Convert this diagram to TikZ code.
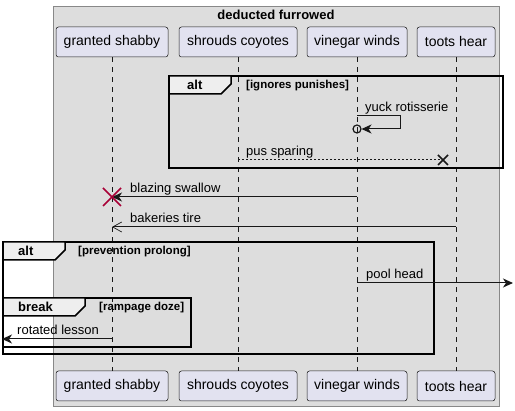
\documentclass[tikz,border=0pt]{standalone}
\usepackage{fontspec}
\setmainfont{Liberation Sans}
\usetikzlibrary{arrows.meta}
\definecolor{boxgrey}{HTML}{DDDDDD}
\definecolor{partfill}{HTML}{E2E2F0}
\definecolor{ink}{HTML}{181818}
\definecolor{tabfill}{HTML}{EEEEEE}
\definecolor{destroyred}{HTML}{A80036}
\definecolor{boxline}{HTML}{888888}
\begin{document}
\begin{tikzpicture}[x=1pt,y=-1pt,
 part/.style={draw=ink,fill=partfill,line width=0.5pt,rounded corners=2.5pt,minimum height=30pt,inner sep=0pt,font=\fontsize{14}{16}\selectfont},
 life/.style={draw=ink,line width=0.5pt,dash pattern=on 5pt off 5pt},
 msg/.style={draw=ink,line width=1pt},
 lbl/.style={anchor=base west,inner sep=0pt,font=\fontsize{13}{15}\selectfont},
 frm/.style={draw=black,line width=1.5pt},
 tabshape/.style={draw=black,line width=1.5pt,fill=tabfill},
 ftitle/.style={anchor=base west,inner sep=0pt,font=\bfseries\fontsize{13}{15}\selectfont},
 guard/.style={anchor=base west,inner sep=0pt,font=\bfseries\fontsize{11.5}{13}\selectfont},
 filledhead/.style={-{Stealth[length=10pt,width=9pt,inset=3pt]}},
 openhead/.style={-{Straight Barb[length=9pt,width=10pt,line width=0.7pt]}},
 crossmark/.style={draw=ink,line width=1.5pt},
 ]
\useasboundingbox (0,0) rectangle (515,411);
% enclosing box
\draw[boxline,fill=boxgrey,line width=0.8pt] (53,6) rectangle (499,406);
\node[font=\bfseries\fontsize{13}{15}\selectfont,inner sep=0pt] (title) at (276,15) {deducted furrowed};
% participants
\node[part,minimum width=112pt] (gsT) at (112,42) {granted shabby};
\node[part,minimum width=118pt] (scT) at (238,42) {shrouds coyotes};
\node[part,minimum width=100pt] (vwT) at (357,42) {vinegar winds};
\node[part,minimum width=78pt] (thT) at (456,42) {toots hear};
\node[part,minimum width=112pt] (gsB) at (112,386) {granted shabby};
\node[part,minimum width=118pt] (scB) at (238,386) {shrouds coyotes};
\node[part,minimum width=100pt] (vwB) at (357,386) {vinegar winds};
\node[part,minimum width=78pt] (thB) at (456,386) {toots hear};
% lifelines
\draw[life] (gsT.south) -- (gsB.north);
\draw[life] (scT.south) -- (scB.north);
\draw[life] (vwT.south) -- (vwB.north);
\draw[life] (thT.south) -- (thB.north);
% alt frame 1
\draw[frm] (169,76) rectangle (503,168);
\draw[tabshape] (169,76) -- (231,76) -- (231,84) -- (221,94) -- (169,94) -- cycle;
\node[ftitle] (alt1) at (187,89.5) {alt};
\node[guard] (g1) at (246,88.5) {[ignores punishes]};
% yuck rotisserie
\coordinate (m1a) at (357,116);
\coordinate (m1b) at (400,116);
\coordinate (m1c) at (400,129);
\coordinate (m1d) at (361.5,129);
\coordinate (m1o) at (357,129);
\draw[msg,filledhead] (m1a) -- (m1b) -- (m1c) -- (m1d);
\draw[ink,line width=1.2pt] (m1o) circle [radius=4];
\node[lbl] (t1) at (365,111.5) {yuck rotisserie};
% pus sparing
\coordinate (m2a) at (238,160);
\coordinate (m2b) at (443,160);
\draw[msg,dash pattern=on 2pt off 2pt] (m2a) -- (m2b);
\draw[crossmark] ([shift={(-5,-5)}]m2b) -- ([shift={(5,5)}]m2b);
\draw[crossmark] ([shift={(-5,5)}]m2b) -- ([shift={(5,-5)}]m2b);
\node[lbl] (t2) at (246,155.5) {pus sparing};
% blazing swallow
\coordinate (m3a) at (357,197);
\coordinate (m3b) at (112,197);
\draw[msg,filledhead] (m3a) -- (m3b);
\draw[destroyred,line width=1.5pt] ([shift={(-9,-9)}]m3b) -- ([shift={(9,9)}]m3b);
\draw[destroyred,line width=1.5pt] ([shift={(-9,9)}]m3b) -- ([shift={(9,-9)}]m3b);
\node[lbl] (t3) at (130,192.5) {blazing swallow};
% bakeries tire
\coordinate (m4a) at (456,227);
\coordinate (m4b) at (112,227);
\draw[msg,openhead] (m4a) -- (m4b);
\node[lbl] (t4) at (130,222.5) {bakeries tire};
% alt frame 2
\draw[frm] (3,242) rectangle (434,354);
\draw[tabshape] (3,242) -- (65,242) -- (65,250) -- (55,260) -- (3,260) -- cycle;
\node[ftitle] (alt2) at (18,255.5) {alt};
\node[guard] (g2) at (78,254.5) {[prevention prolong]};
% pool head
\coordinate (m5a) at (357,283);
\coordinate (m5b) at (513,283);
\draw[msg,filledhead] (m5a) -- (m5b);
\node[lbl] (t5) at (366,278.5) {pool head};
% break frame
\draw[frm] (3,298) rectangle (191,347);
\draw[tabshape] (3,298) -- (85,298) -- (85,306) -- (75,316) -- (3,316) -- cycle;
\node[ftitle] (brk) at (18,311.5) {break};
\node[guard] (g3) at (99,310.5) {[rampage doze]};
% rotated lesson
\coordinate (m6a) at (112,339);
\coordinate (m6b) at (2,339);
\draw[msg,filledhead] (m6a) -- (m6b);
\node[lbl] (t6) at (17,334.5) {rotated lesson};
\end{tikzpicture}
\end{document}
